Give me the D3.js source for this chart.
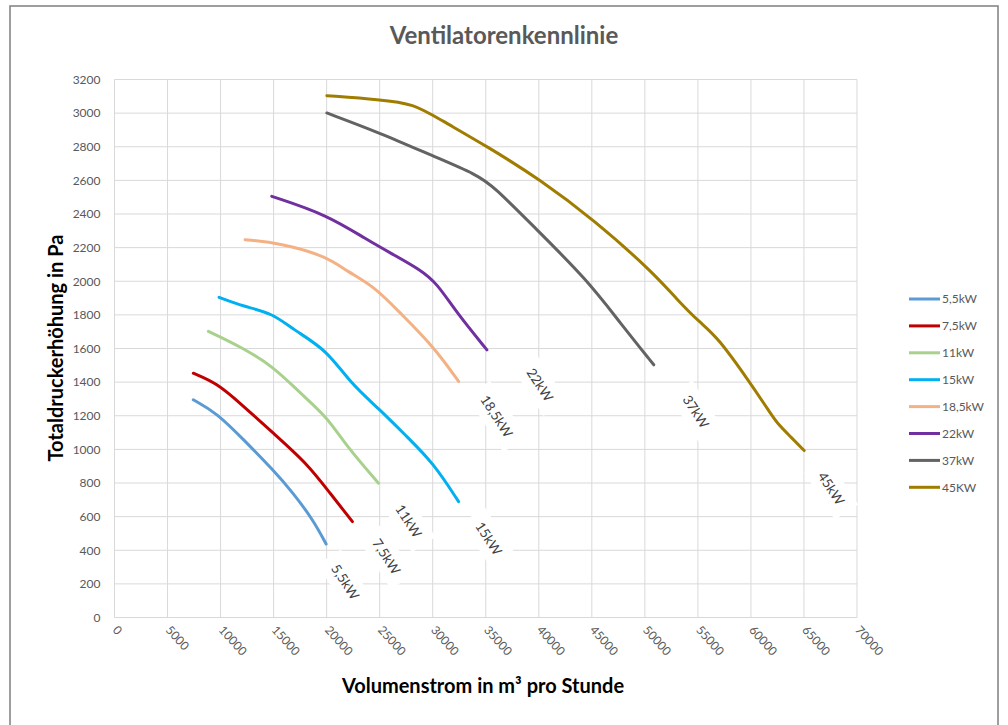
<!DOCTYPE html>
<html>
<head>
<meta charset="utf-8">
<title>Ventilatorenkennlinie</title>
<script src="https://d3js.org/d3.v7.min.js"></script>
<style>
  body { margin: 0; background: #fff; }
  svg text { font-family: Lato, "Open Sans", sans-serif; fill: #595959; }
</style>
</head>
<body>
<div id="chart"></div>
<script>
// fan curves: [Volumenstrom m3/h, Totaldruckerhöhung Pa]
var kw5_5 = [[7430,1295],[9640,1217],[12120,1061],[14950,878],[16840,741],[18730,580],[19950,437]];
var kw7_5 = [[7430,1453],[9640,1394],[11840,1275],[14980,1096],[18130,918],[20330,739],[22430,570]];
var kw11 = [[8850,1702],[11840,1612],[14980,1493],[17500,1334],[20020,1195],[21900,1017],[24890,799]];
var kw15 = [[9860,1904],[12150,1850],[14890,1811],[16870,1711],[20020,1592],[22220,1394],[25050,1235],[27560,1076],[30080,918],[32440,689]];
var kw18_5 = [[12310,2247],[15610,2227],[20020,2148],[21910,2059],[24500,1969],[26930,1811],[30080,1612],[32440,1404]];
var kw22 = [[14830,2505],[20020,2396],[23790,2247],[26310,2158],[28830,2068],[30390,1989],[32280,1811],[35110,1592]];
var kw37 = [[20020,3001],[25050,2882],[30080,2743],[34170,2634],[35740,2564],[39510,2326],[44550,2009],[47690,1751],[50840,1503]];
var kw45 = [[20020,3104],[25050,3080],[28190,3057],[30710,2961],[35110,2803],[40140,2604],[45170,2366],[50840,2049],[53040,1890],[55240,1751],[56810,1671],[59950,1394],[61840,1215],[62470,1156],[63730,1076],[65020,993]];

var seriesNames = ["5,5kW", "7,5kW", "11kW", "15kW", "18,5kW", "22kW", "37kW", "45KW"];
var endLabels = ["5,5kW", "7,5kW", "11kW", "15kW", "18,5kW", "22kW", "37kW", "45kW"];
var seriesData = [kw5_5, kw7_5, kw11, kw15, kw18_5, kw22, kw37, kw45];
var colors = ["#5b9bd5", "#c00000", "#a9d18e", "#00b0f0", "#f4b183", "#7030a0", "#636363", "#a07d00"];

var xTicks = d3.range(0, 70001, 5000);
var yTicks = d3.range(0, 3201, 200);

var width = 1008, height = 725;
var svg = d3.select("#chart").append("svg").attr("width", width).attr("height", height);

// outer frame
svg.append("rect").attr("x", 10).attr("y", 6).attr("width", 988).attr("height", 760)
  .attr("fill", "#fff").attr("stroke", "#7f7f7f").attr("stroke-width", 1.5);

var x = d3.scaleLinear().domain([0, 70000]).range([114.5, 857]);
var y = d3.scaleLinear().domain([0, 3200]).range([617.5, 79.5]);

// gridlines
svg.append("g").selectAll("line").data(yTicks).enter().append("line")
  .attr("x1", x(0)).attr("x2", x(70000))
  .attr("y1", function(d) { return y(d); }).attr("y2", function(d) { return y(d); })
  .attr("stroke", "#d9d9d9").attr("stroke-width", 1);
svg.append("g").selectAll("line").data(xTicks).enter().append("line")
  .attr("y1", y(0)).attr("y2", y(3200))
  .attr("x1", function(d) { return x(d); }).attr("x2", function(d) { return x(d); })
  .attr("stroke", "#d9d9d9").attr("stroke-width", 1);

// y axis
var yAxis = svg.append("g").attr("transform", "translate(" + x(0) + ",0)")
  .call(d3.axisLeft(y).tickValues(yTicks).tickSize(0).tickPadding(14).tickFormat(d3.format("d")));
yAxis.select(".domain").remove();
yAxis.selectAll("text").style("font-size", "12px").style("fill", "#595959")
  .style("font-family", "Lato, sans-serif");

// x axis, rotated labels
var xAxis = svg.append("g").attr("transform", "translate(0," + y(0) + ")")
  .call(d3.axisBottom(x).tickValues(xTicks).tickSize(0).tickFormat(d3.format("d")));
xAxis.select(".domain").remove();
xAxis.selectAll("text")
  .style("font-size", "12px").style("fill", "#595959").style("font-family", "Lato, sans-serif")
  .attr("text-anchor", "start").attr("dy", null).attr("y", 0)
  .attr("transform", "translate(-3,13) rotate(48)");

// curves
var line = d3.line().x(function(d) { return x(d[0]); }).y(function(d) { return y(d[1]); })
  .curve(d3.curveBasis);
seriesData.forEach(function(data, i) {
  svg.append("path").datum(data).attr("d", line)
    .attr("fill", "none").attr("stroke", colors[i]).attr("stroke-width", 3)
    .attr("stroke-linejoin", "round").attr("stroke-linecap", "round");
});

// end labels (rotated, white box)
var labelShift = [[19, 38], [34, 35], [30, 38], [30, 37], [38, 35], [53, 35], [42, 47], [27, 38]];
seriesData.forEach(function(data, i) {
  var last = data[data.length - 1];
  var g = svg.append("g")
    .attr("transform", "translate(" + (x(last[0]) + labelShift[i][0]) + "," + (y(last[1]) + labelShift[i][1]) + ") rotate(57)");
  var t = g.append("text").text(endLabels[i]).attr("text-anchor", "middle").attr("dy", "0.35em")
    .style("font-size", "13.5px").style("fill", "#404040");
  var w = t.node().getComputedTextLength();
  g.insert("rect", "text").attr("x", -w / 2 - 10).attr("y", -14).attr("width", w + 20).attr("height", 28)
    .attr("fill", "#fff");
});

// title
svg.append("text").attr("x", 504).attr("y", 44).attr("text-anchor", "middle")
  .style("font-size", "24px").style("font-weight", "bold").style("fill", "#595959")
  .text("Ventilatorenkennlinie");

// axis titles
svg.append("text").attr("x", 483).attr("y", 693).attr("text-anchor", "middle")
  .style("font-size", "20px").style("font-weight", "bold").style("fill", "#000")
  .text("Volumenstrom in m³ pro Stunde");
svg.append("text").attr("transform", "translate(63,348) rotate(-90)").attr("text-anchor", "middle")
  .style("font-size", "20px").style("font-weight", "bold").style("fill", "#000")
  .text("Totaldruckerhöhung in Pa");

// legend
var legend = svg.append("g").attr("transform", "translate(909,299)");
seriesNames.forEach(function(name, i) {
  var row = legend.append("g").attr("transform", "translate(0," + (i * 26.9) + ")");
  row.append("line").attr("x1", 0).attr("x2", 31).attr("y1", 0).attr("y2", 0)
    .attr("stroke", colors[i]).attr("stroke-width", 3);
  row.append("text").attr("x", 33).attr("dy", "0.35em").style("font-size", "12px").text(name);
});
</script>
</body>
</html>
